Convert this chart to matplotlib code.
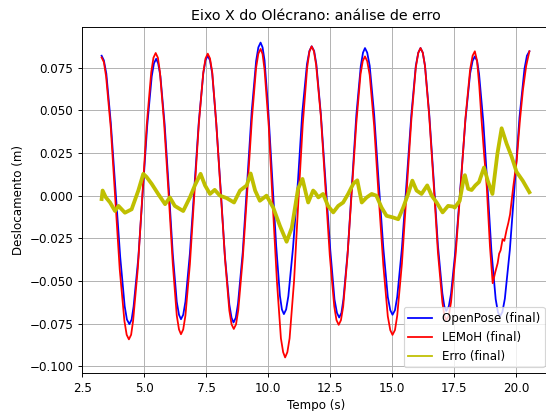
import matplotlib
matplotlib.use("Agg")
import matplotlib.pyplot as plt

# values
t_openpose = [3.28, 3.37, 3.47, 3.65, 3.84, 4.03, 4.21, 4.30, 4.40, 4.49,
              4.57, 4.76, 4.94, 5.12, 5.30, 5.39, 5.48, 5.56, 5.65, 5.82,
              5.99, 6.15, 6.31, 6.40, 6.48, 6.57, 6.66, 6.84, 7.02, 7.20,
              7.38, 7.47, 7.56, 7.65, 7.74, 7.90, 8.08, 8.25, 8.43, 8.52,
              8.60, 8.69, 8.78, 8.97, 9.15, 9.33, 9.51, 9.60, 9.69, 9.77,
              9.85, 10.00, 10.16, 10.32, 10.47, 10.55, 10.63, 10.72, 10.81, 11.00,
              11.20, 11.37, 11.56, 11.66, 11.75, 11.85, 11.94, 12.12, 12.31, 12.50,
              12.67, 12.77, 12.86, 12.95, 13.03, 13.21, 13.38, 13.55, 13.73, 13.82,
              13.90, 13.99, 14.09, 14.27, 14.45, 14.64, 14.82, 14.92, 15.01, 15.11,
              15.20, 15.39, 15.58, 15.77, 15.95, 16.05, 16.14, 16.23, 16.32, 16.49,
              16.67, 16.84, 17.02, 17.10, 17.18, 17.28, 17.37, 17.56, 17.76, 17.95,
              18.14, 18.24, 18.33, 18.42, 18.50, 18.67, 18.84, 19.00, 19.17, 19.26,
              19.34, 19.44, 19.54, 19.74, 19.94, 20.13, 20.33, 20.43, 20.53]
y_openpose = [0.0820, 0.0793, 0.0715, 0.0427, 0.0034, -0.0360, -0.0648, -0.0726, -0.0753, -0.0726,
              -0.0649, -0.0364, 0.0025, 0.0413, 0.0698, 0.0775, 0.0802, 0.0775, 0.0700, 0.0421,
              0.0039, -0.0343, -0.0622, -0.0698, -0.0724, -0.0698, -0.0621, -0.0338, 0.0048, 0.0434,
              0.0717, 0.0794, 0.0820, 0.0793, 0.0716, 0.0430, 0.0039, -0.0352, -0.0638, -0.0716,
              -0.0743, -0.0715, -0.0633, -0.0333, 0.0078, 0.0489, 0.0789, 0.0869, 0.0897, 0.0869,
              0.0793, 0.0501, 0.0103, -0.0296, -0.0587, -0.0667, -0.0694, -0.0667, -0.0589, -0.0302,
              0.0091, 0.0483, 0.0770, 0.0848, 0.0875, 0.0848, 0.0769, 0.0478, 0.0081, -0.0317,
              -0.0608, -0.0687, -0.0714, -0.0687, -0.0608, -0.0319, 0.0076, 0.0470, 0.0759, 0.0838,
              0.0865, 0.0838, 0.0761, 0.0475, 0.0084, -0.0307, -0.0594, -0.0671, -0.0698, -0.0671,
              -0.0593, -0.0307, 0.0084, 0.0475, 0.0761, 0.0838, 0.0865, 0.0838, 0.0762, 0.0480,
              0.0095, -0.0290, -0.0572, -0.0649, -0.0675, -0.0649, -0.0575, -0.0302, 0.0071, 0.0443,
              0.0716, 0.0790, 0.0816, 0.0790, 0.0714, 0.0435, 0.0054, -0.0327, -0.0606, -0.0682,
              -0.0708, -0.0682, -0.0604, -0.0320, 0.0069, 0.0458, 0.0742, 0.0820, 0.0846]

t_lemoh = [3.28, 3.37, 3.46, 3.65, 3.83, 4.01, 4.20, 4.29, 4.38, 4.47,
           4.55, 4.74, 4.92, 5.10, 5.28, 5.37, 5.46, 5.55, 5.63, 5.80,
           5.98, 6.15, 6.31, 6.40, 6.48, 6.57, 6.66, 6.84, 7.02, 7.20,
           7.38, 7.47, 7.56, 7.65, 7.74, 7.90, 8.08, 8.26, 8.43, 8.52,
           8.61, 8.70, 8.79, 8.97, 9.16, 9.34, 9.51, 9.60, 9.69, 9.77,
           9.85, 10.02, 10.18, 10.35, 10.51, 10.60, 10.68, 10.77, 10.86, 11.04,
           11.21, 11.39, 11.57, 11.66, 11.75, 11.84, 11.93, 12.12, 12.30, 12.48,
           12.66, 12.75, 12.84, 12.93, 13.02, 13.19, 13.37, 13.55, 13.72, 13.81,
           13.90, 13.99, 14.09, 14.27, 14.45, 14.64, 14.82, 14.92, 15.01, 15.11,
           15.20, 15.39, 15.58, 15.77, 15.95, 16.05, 16.14, 16.23, 16.32, 16.49,
           16.67, 16.84, 17.02, 17.10, 17.18, 17.28, 17.37, 17.56, 17.76, 17.95,
           18.14, 18.24, 18.33, 18.42, 18.51, 18.60, 18.70, 18.81, 18.94, 19.05,
           19.15, 19.25, 19.31, 19.37, 19.45, 19.52, 19.61, 19.68, 19.75, 19.88,
           20.02, 20.15, 20.27, 20.40, 20.53]
y_lemoh = [0.0810, 0.0783, 0.0699, 0.0396, -0.0018, -0.0432, -0.0735, -0.0815, -0.0842, -0.0815,
           -0.0733, -0.0426, -0.0005, 0.0416, 0.0723, 0.0808, 0.0836, 0.0808, 0.0726, 0.0424,
           0.0012, -0.0400, -0.0702, -0.0784, -0.0812, -0.0784, -0.0702, -0.0401, 0.0010, 0.0421,
           0.0722, 0.0804, 0.0832, 0.0804, 0.0724, 0.0429, 0.0026, -0.0378, -0.0673, -0.0754,
           -0.0781, -0.0754, -0.0671, -0.0371, 0.0040, 0.0450, 0.0750, 0.0832, 0.0860, 0.0830,
           0.0738, 0.0406, -0.0049, -0.0504, -0.0836, -0.0917, -0.0948, -0.0917, -0.0836, -0.0500,
           -0.0042, 0.0417, 0.0752, 0.0845, 0.0875, 0.0847, 0.0766, 0.0467, 0.0059, -0.0349,
           -0.0648, -0.0729, -0.0757, -0.0730, -0.0651, -0.0363, 0.0030, 0.0423, 0.0711, 0.0789,
           0.0816, 0.0788, 0.0707, 0.0408, 0.0000, -0.0408, -0.0707, -0.0788, -0.0816, -0.0787,
           -0.0703, -0.0396, 0.0025, 0.0445, 0.0752, 0.0837, 0.0865, 0.0838, 0.0759, 0.0467,
           0.0068, -0.0331, -0.0623, -0.0703, -0.0730, -0.0703, -0.0624, -0.0336, 0.0058, 0.0452,
           0.0740, 0.0820, 0.0846, 0.0790, 0.0640, 0.0444, 0.0250, 0.0053, -0.0299, -0.0513,
           -0.0450, -0.0396, -0.0340, -0.0320, -0.0255, -0.0265, -0.0201, -0.0160, -0.0110, 0.0053,
           0.0209, 0.0444, 0.0620, 0.0760, 0.0846]

t_erro = [3.28, 3.32, 3.45, 3.62, 3.82, 3.96, 4.22, 4.49, 4.76, 4.96,
          5.09, 5.30, 5.56, 5.84, 6.03, 6.23, 6.57, 6.84, 7.04, 7.27,
          7.45, 7.65, 7.84, 8.05, 8.32, 8.62, 8.86, 9.13, 9.29, 9.47,
          9.66, 9.93, 10.20, 10.47, 10.74, 10.95, 11.20, 11.38, 11.54, 11.61,
          11.81, 11.88, 12.02, 12.21, 12.41, 12.62, 12.82, 13.02, 13.22, 13.43,
          13.59, 13.77, 13.97, 14.17, 14.36, 14.57, 14.77, 15.04, 15.24, 15.44,
          15.64, 15.81, 15.98, 16.18, 16.41, 16.59, 16.79, 17.03, 17.25, 17.46,
          17.52, 17.72, 17.89, 17.93, 18.06, 18.20, 18.35, 18.50, 18.70, 18.85,
          19.04, 19.24, 19.41, 19.61, 19.81, 20.01, 20.26, 20.53]
y_erro = [-0.0020, 0.0030, -0.0010, -0.0040, -0.0090, -0.0060, -0.0100, -0.0080, 0.0030, 0.0128,
          0.0110, 0.0069, 0.0010, -0.0050, -0.0010, -0.0060, -0.0090, -0.0010, 0.0060, 0.0128,
          0.0060, 0.0010, 0.0034, 0.0000, -0.0014, -0.0040, 0.0030, 0.0060, 0.0130, 0.0030,
          -0.0030, 0.0000, -0.0070, -0.0177, -0.0270, -0.0187, 0.0040, 0.0098, 0.0000, -0.0040,
          0.0030, 0.0020, -0.0010, 0.0010, -0.0060, -0.0098, -0.0060, -0.0040, 0.0010, 0.0070,
          0.0090, -0.0040, -0.0010, 0.0010, 0.0000, -0.0070, -0.0118, -0.0128, -0.0138, -0.0070,
          0.0010, 0.0088, 0.0030, 0.0010, 0.0060, 0.0000, -0.0040, -0.0098, -0.0060, -0.0064,
          -0.0070, -0.0030, 0.0108, 0.0120, 0.0040, 0.0033, 0.0060, 0.0080, 0.0165, 0.0088,
          0.0010, 0.0246, 0.0395, 0.0305, 0.0230, 0.0140, 0.0088, 0.0020]

# default 6.4x4.8 figure, drawn at a lower dpi so it comes out 546x411
dpi = 85.3
fig = plt.figure(figsize=(546 / dpi, 411 / dpi), dpi=dpi)
ax = fig.add_axes([0.1496, 0.0917, 0.8586, 0.8433])

ax.plot(t_openpose, y_openpose, color="blue", label="OpenPose (final)")
ax.plot(t_lemoh, y_lemoh, color="red", label="LEMoH (final)")
ax.plot(t_erro, y_erro, color="y", linewidth=3.2, label="Erro (final)")

ax.set_xlim(2.476, 21.38)
ax.set_ylim(-0.1041, 0.099)
ax.set_title("Eixo X do Olécrano: análise de erro")
ax.set_xlabel("Tempo (s)")
ax.set_ylabel("Deslocamento (m)")
ax.grid(True)
leg = ax.legend(loc="lower right")
for h in leg.legend_handles:
    h.set_linewidth(1.5)

fig.savefig("out.png", dpi=dpi)
